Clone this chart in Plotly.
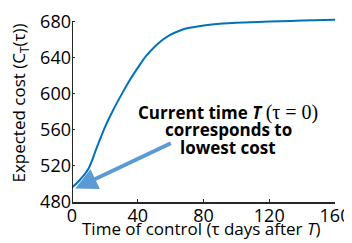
import plotly.graph_objects as go

tau = [0, 5, 10, 15, 20, 25, 30, 35, 40, 45, 50, 55, 60, 65, 70, 80, 90, 100, 120, 140, 160]
cost = [496, 505, 517, 540, 563, 582, 599, 615, 629, 642, 652, 660, 666, 670, 673, 676, 678, 679, 680.5, 681.5, 682.5]
x_ticks = [0, 40, 80, 120, 160]
y_ticks = [480, 520, 560, 600, 640, 680]

FONT = "Open Sans"
fig = go.Figure()
fig.add_trace(go.Scatter(x=tau, y=cost, mode="lines", line_shape="spline",
                         line=dict(color="#0072BD", width=2), hoverinfo="skip"))

# y axis line only up to top tick
fig.add_shape(type="line", xref="x", yref="y", x0=0, x1=0, y0=480, y1=680,
              line=dict(color="#262626", width=2))

fig.add_annotation(x=2, y=495, ax=61, ay=546, xref="x", yref="y", axref="x", ayref="y",
                   showarrow=True, arrowhead=2, arrowsize=1.1, arrowwidth=4,
                   arrowcolor="#5B9BD5", text="")
ann_lines = ["<b>Current time <i>T</i> </b><span style='font-family:Liberation Serif;font-size:20px'>(τ = 0)</span>",
             "<b>corresponds to</b>", "<b>lowest cost</b>"]
ann_y = [579, 560, 540]
for t, yy in zip(ann_lines, ann_y):
    fig.add_annotation(x=95, y=yy, xref="x", yref="y", showarrow=False, text=t,
                       font=dict(family=FONT, size=17, color="black"))

fig.add_annotation(xref="paper", yref="paper", x=0.49, y=-0.142, xanchor="center", yanchor="middle",
                   showarrow=False, text="Time of control (τ days after <i>T</i>)",
                   font=dict(family=FONT, size=17, color="black"))
fig.add_annotation(xref="paper", yref="paper", x=-0.198, y=0.54, xanchor="center", yanchor="middle",
                   showarrow=False, textangle=-90, text="Expected cost (C<sub>T</sub>(τ))",
                   font=dict(family=FONT, size=17, color="black"))

fig.update_layout(
    width=344, height=235, margin=dict(l=64, r=17, t=10, b=41),
    plot_bgcolor="white", paper_bgcolor="white", showlegend=False,
    font=dict(family=FONT, color="black"),
    xaxis=dict(range=[0, 160], tickvals=x_ticks, ticks="inside", ticklen=3,
               showline=True, linecolor="#262626", linewidth=2, tickcolor="#262626",
               showgrid=False, zeroline=False, tickfont=dict(size=18), automargin=False,
               ticklabelstandoff=-4),
    yaxis=dict(range=[480, 684.4], tickvals=y_ticks, ticks="inside", ticklen=3,
               showline=False, tickcolor="#262626", tickwidth=1,
               showgrid=False, zeroline=False, tickfont=dict(size=18), automargin=False),
)
fig.write_html("out.html")
